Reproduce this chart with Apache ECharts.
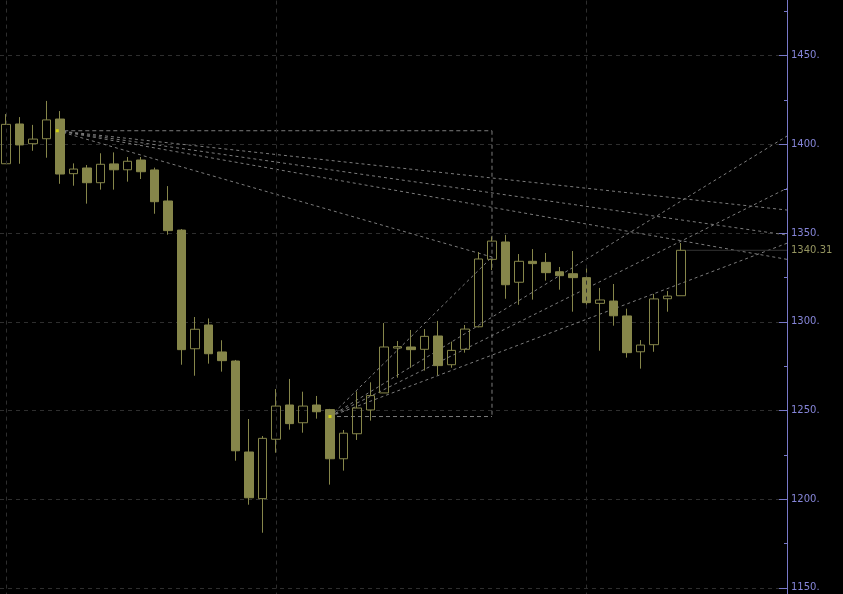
<!DOCTYPE html>
<html><head><meta charset="utf-8">
<script src="https://cdn.jsdelivr.net/npm/echarts@6/dist/echarts.min.js"></script>
<style>html,body{margin:0;padding:0;background:#000;}#c{width:843px;height:594px;}</style>
</head><body><div id="c"></div>
<script>
// OHLC of each daily bar, left to right
const opens  = [1389.1,1411.5,1400.4,1403.2,1414.3,1383.5,1386.7,1378.4,1389.0,1385.7,1391.2,1385.6,1368.1,1351.7,1284.8,1298.2,1283.0,1277.9,1226.6,1200.3,1233.8,1253.1,1243.1,1253.1,1250.5,1222.8,1236.9,1250.3,1259.9,1285.2,1285.8,1284.5,1292.0,1275.8,1284.5,1297.2,1335.2,1345.0,1322.3,1334.1,1333.5,1328.2,1327.1,1324.9,1310.4,1311.7,1303.3,1283.1,1287.1,1313.0,1314.7];
const closes = [1411.3,1399.7,1403.0,1413.8,1383.3,1386.1,1378.4,1388.8,1385.7,1390.5,1384.6,1367.7,1351.4,1284.3,1295.8,1282.0,1278.1,1227.3,1200.8,1234.3,1252.5,1242.6,1252.5,1249.3,1222.8,1237.2,1251.4,1258.4,1285.8,1286.0,1284.3,1291.8,1275.3,1283.9,1295.9,1335.4,1345.5,1320.9,1334.1,1332.8,1327.7,1326.0,1324.9,1310.8,1312.3,1303.4,1282.6,1286.9,1312.9,1314.5,1340.31];
const lows   = [1389.1,1389.1,1396.4,1392.5,1377.8,1376.7,1366.6,1374.5,1374.5,1379.0,1380.5,1360.9,1349.1,1275.8,1269.6,1276.4,1271.9,1221.7,1196.9,1181.1,1226.2,1239.2,1237.5,1245.4,1208.2,1216.1,1233.4,1244.3,1259.9,1268.5,1274.1,1272.5,1269.8,1274.1,1282.6,1296.9,1329.2,1313.0,1309.6,1312.5,1323.2,1318.1,1305.7,1308.0,1283.7,1297.8,1279.8,1273.6,1283.1,1305.7,1314.7];
const highs  = [1417.1,1415.4,1411.0,1424.5,1418.8,1389.3,1388.4,1395.0,1395.5,1392.9,1392.9,1386.9,1376.5,1352.3,1302.7,1301.9,1289.6,1278.5,1245.2,1235.6,1262.1,1267.8,1260.6,1258.2,1250.9,1239.0,1260.8,1265.9,1299.3,1289.2,1295.4,1295.9,1300.5,1288.8,1298.2,1339.3,1348.1,1349.0,1338.2,1341.0,1338.8,1330.9,1339.9,1331.5,1319.1,1321.3,1307.4,1289.7,1315.7,1317.4,1344.4];

// visible bar-index range (x axis) and price range (y axis, partly off-screen)
const xRange = [-0.444, 57.852];
const yRange = [1100, 1500];
const yStep = 50;

// vertical separators (bar indices)
const separators = [0, 20, 43];

// drawing anchors: [barIndex, price]
const anchorA = [3.8, 1407.7];
const anchorB = [24, 1246.6];
const pivot   = [36, 1336.5];
// fan line targets at right edge (price)
const fanA_ends = [1363.0, 1348.9, 1335.2];
const fanB_ends = [1404.7, 1375.3, 1344.3];

const lastPrice = 1340.31;
const lastStart = 50.4;

const OLIVE = '#86864a';
const GRID = '#2e2e2e';
const FAN = '#7c7c7c';
const AXIS = '#7878c8';

const candleData = opens.map((o, i) => [i, o, closes[i], lows[i], highs[i]]);

function seg(p1, p2, dash) {
  return {
    type: 'line', data: [p1, p2], showSymbol: false, silent: true, z: 1,
    lineStyle: { color: FAN, width: 1, type: dash || [3, 3] }
  };
}

const series = [];
fanA_ends.forEach(v => series.push(seg(anchorA, [xRange[1], v])));
fanB_ends.forEach(v => series.push(seg(anchorB, [xRange[1], v])));
series.push(seg(anchorA, pivot));
series.push(seg(anchorB, pivot));
// box
series.push(seg(anchorA, [pivot[0], anchorA[1]], [4, 3]));
series.push(seg([pivot[0], anchorA[1]], [pivot[0], anchorB[1]], [4, 3]));
series.push(seg(anchorB, [pivot[0], anchorB[1]], [4, 3]));

// last price line
series.push({
  type: 'line', data: [[lastStart, lastPrice], [xRange[1], lastPrice]],
  showSymbol: false, silent: true, z: 1,
  lineStyle: { color: '#333333', width: 1 },
  endLabel: { show: true, formatter: () => lastPrice.toFixed(2), color: '#959560',
    fontFamily: 'DejaVu Sans', fontSize: 10, distance: 4 }
});

series.push({
  type: 'candlestick', z: 3, barWidth: 9,
  data: candleData,
  encode: { x: 0, y: [1, 2, 3, 4] },
  itemStyle: { color: 'rgba(0,0,0,0)', color0: OLIVE, borderColor: OLIVE, borderColor0: OLIVE, borderWidth: 1 },
  markLine: {
    silent: true, symbol: ['none', 'none'], label: { show: false },
    lineStyle: { color: GRID, type: [4, 4], width: 1 },
    data: separators.map(v => ({ xAxis: v }))
  }
});

series.push({
  type: 'scatter', z: 5, silent: true, symbol: 'rect', symbolSize: 3,
  itemStyle: { color: '#e6e600' },
  data: [anchorA, anchorB]
});

const chart = echarts.init(document.getElementById('c'), null, { renderer: 'canvas' });
chart.setOption({
  backgroundColor: '#000000',
  animation: false,
  grid: { left: 0, right: 56, top: -33, bottom: -82.6, containLabel: false, outerBoundsMode: 'none' },
  xAxis: { type: 'value', min: xRange[0], max: xRange[1], show: false, splitLine: { show: false } },
  yAxis: {
    type: 'value', position: 'right', min: yRange[0], max: yRange[1], interval: yStep,
    axisLine: { show: true, onZero: false, lineStyle: { color: AXIS } },
    axisTick: { show: true, inside: true, length: 8, lineStyle: { color: AXIS } },
    minorTick: { show: true, splitNumber: 2, length: 3, lineStyle: { color: AXIS } },
    axisLabel: { color: '#8585d8', fontFamily: 'DejaVu Sans', fontSize: 10, margin: 4, formatter: v => v + '.' },
    splitLine: { show: true, lineStyle: { color: GRID, type: [4, 4] } }
  },
  series: series
});
</script>
</body></html>
